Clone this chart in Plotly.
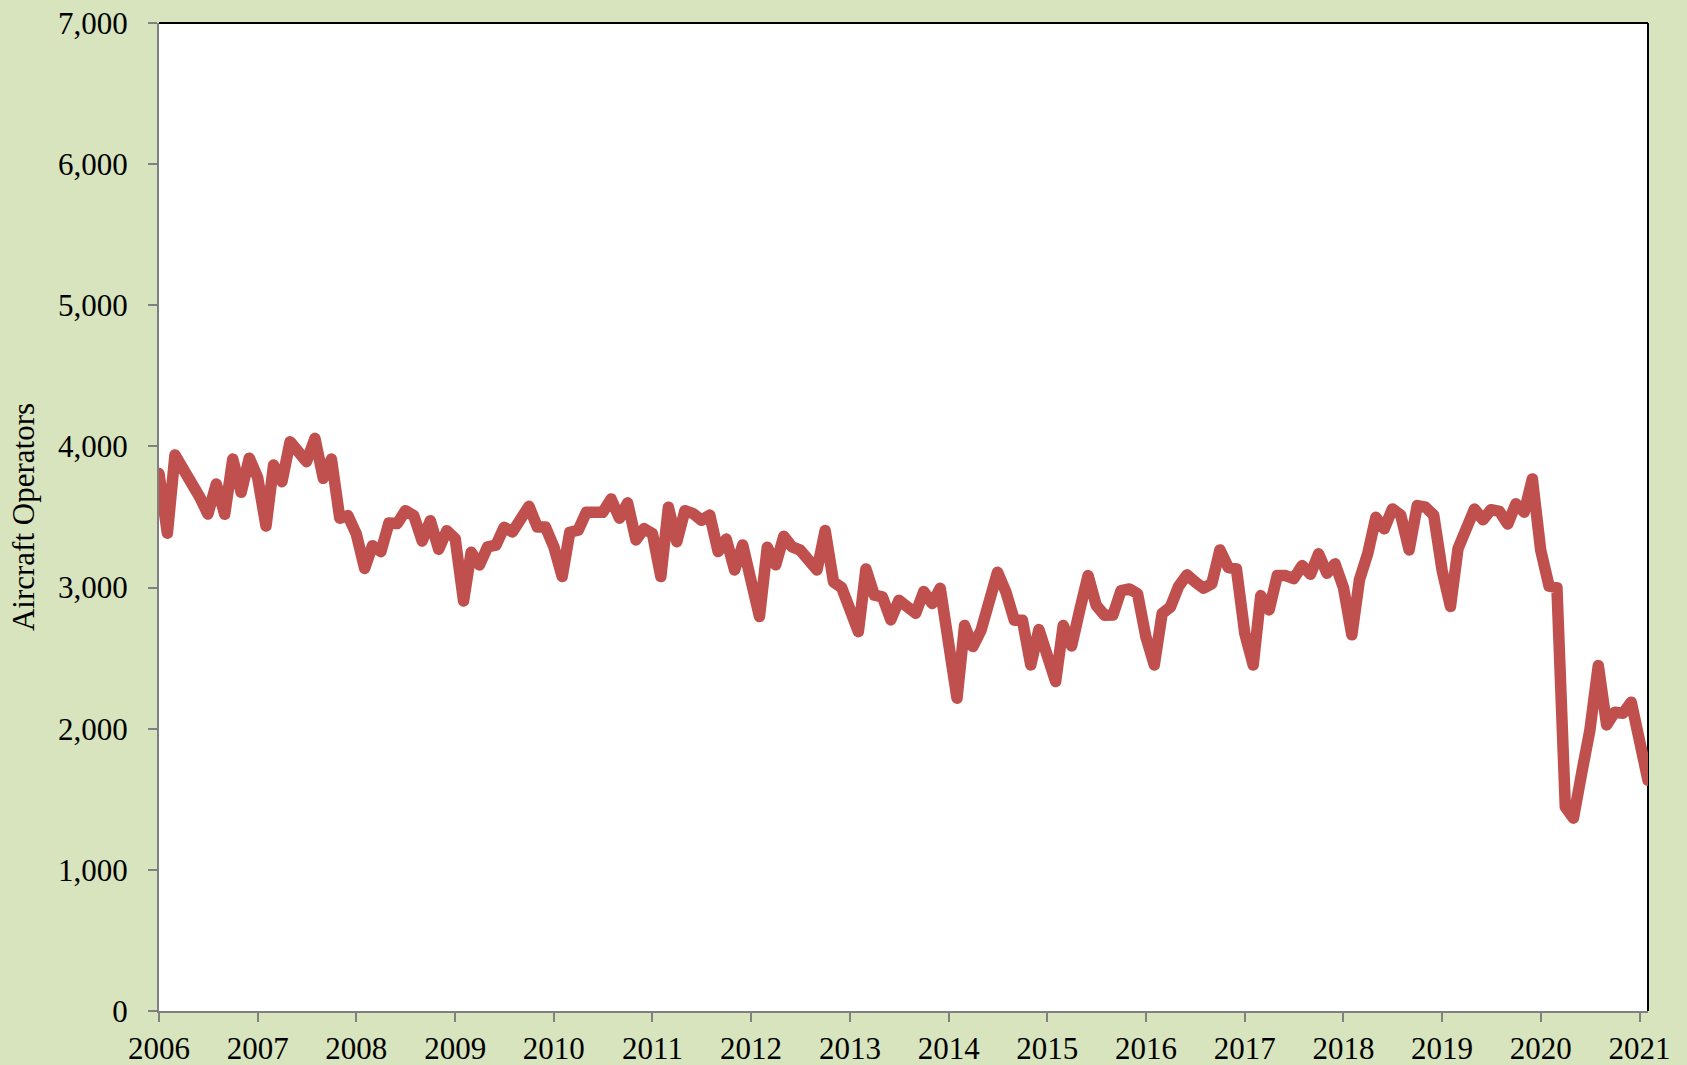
import pandas as pd
import plotly.graph_objects as go

months = pd.date_range("2006-01-01", "2021-02-01", freq="MS")

operators = [
    3808, 3385, 3939, 3842, 3764, 3640, 3521, 3734, 3519, 3910, 3675, 3917,
    3780, 3436, 3868, 3750, 4033, 3960, 3892, 4057, 3774, 3910, 3491, 3510,
    3380, 3136, 3297, 3254, 3458, 3454, 3545, 3509, 3330, 3474, 3271, 3403,
    3347, 2905, 3250, 3160, 3288, 3300, 3427, 3394, 3500, 3576, 3429, 3429,
    3290, 3078, 3392, 3406, 3533, 3533, 3533, 3628, 3491, 3600, 3337, 3418,
    3382, 3078, 3569, 3325, 3545, 3524, 3477, 3514, 3255, 3344, 3125, 3302,
    3000, 2795, 3286, 3161, 3364, 3288, 3265, 3205, 3125, 3404, 3040, 3000,
    2840, 2688, 3132, 2946, 2934, 2771, 2910, 2875, 2818, 2972, 2887, 2995,
    2580, 2216, 2731, 2582, 2698, 2910, 3109, 2969, 2769, 2769, 2452, 2702,
    2509, 2334, 2731, 2587, 2839, 3085, 2875, 2804, 2806, 2979, 2990, 2957,
    2650, 2452, 2816, 2863, 3009, 3090, 3040, 2995, 3028, 3267, 3142, 3132,
    2674, 2452, 2943, 2842, 3085, 3085, 3064, 3156, 3094, 3239, 3101, 3168,
    3000, 2665, 3053, 3241, 3498, 3416, 3557, 3513, 3267, 3581, 3569, 3513,
    3123, 2866, 3276, 3406, 3557, 3480, 3552, 3540, 3450, 3593, 3534, 3770,
    3264, 3010, 3000, 1446, 1366, 1690, 1990, 2447, 2027, 2117, 2110, 2188,
    1895, 1635,
]

year_ticks = [f"{y}-01-01" for y in range(2006, 2022)]
year_labels = [str(y) for y in range(2006, 2022)]
y_ticks = [0, 1000, 2000, 3000, 4000, 5000, 6000, 7000]

fig = go.Figure()
fig.add_trace(go.Scatter(
    x=months, y=operators, mode="lines",
    line=dict(color="#C0504D", width=11.5),
    showlegend=False, hoverinfo="x+y",
))

# black border on top and right of the plot area
fig.add_shape(type="line", xref="paper", yref="paper", x0=0, x1=1, y0=1, y1=1,
              line=dict(color="black", width=2), layer="below")
fig.add_shape(type="line", xref="paper", yref="paper", x0=1, x1=1, y0=0, y1=1,
              line=dict(color="black", width=2), layer="below")

font = dict(family="Liberation Serif, Times New Roman, serif", size=31, color="black")

fig.update_layout(
    template="none",
    width=1687, height=1065,
    margin=dict(l=159, r=39, t=23, b=54, autoexpand=False),
    paper_bgcolor="#D7E4BD",
    plot_bgcolor="white",
    font=font,
    xaxis=dict(
        range=["2006-01-01", "2021-02-01"],
        tickvals=year_ticks, ticktext=year_labels,
        showgrid=False, zeroline=False, automargin=False,
        showline=True, linecolor="#808080", linewidth=2,
        ticks="outside", ticklen=9, tickwidth=2, tickcolor="#808080",
        tickfont=font, ticklabelstandoff=0,
    ),
    yaxis=dict(
        range=[0, 7000],
        tickvals=y_ticks, tickformat=",",
        showgrid=False, zeroline=False, automargin=False,
        showline=True, linecolor="#808080", linewidth=2,
        ticks="outside", ticklen=9, tickwidth=2, tickcolor="#808080",
        tickfont=font, ticklabelstandoff=14,
        title=dict(text="Aircraft Operators", font=font, standoff=14),
    ),
)

post = (
    "document.body.style.margin='0';document.body.style.overflow='hidden';"
    "document.querySelectorAll('.scatterlayer path.js-line').forEach("
    "function(p){p.style.strokeLinejoin='round';p.style.strokeLinecap='round';});"
)
fig.write_html("out.html", config={"displayModeBar": False}, post_script=post)
